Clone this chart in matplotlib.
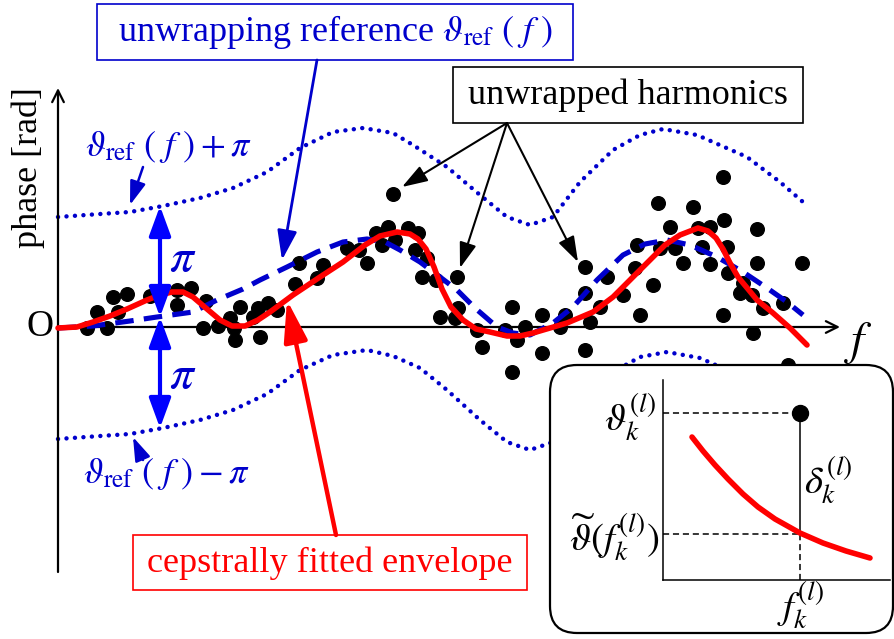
import matplotlib
matplotlib.use("Agg")
import matplotlib.pyplot as plt
from matplotlib.patches import Rectangle, FancyBboxPatch

plt.rcParams["font.family"] = ["Liberation Serif", "DejaVu Serif"]
plt.rcParams["mathtext.fontset"] = "stix"

BLUE = "#0000CC"
BRIGHT_BLUE = "#0000FF"
RED = "#FF0000"

# unwrapped harmonics (f, phase) -- schematic units, origin at the "O"
DOT_F = [29, 39, 49, 55, 69, 60, 92, 119, 133, 119, 148, 145, 160, 172, 176, 177,
         182, 195, 200, 202, 210, 219, 237, 241, 259, 265, 289, 301, 309, 318, 324,
         330, 337, 350, 360, 357, 369, 364, 378, 382, 399, 400, 397, 419, 424, 454,
         459, 447, 467, 454, 335, 484, 507, 502, 484, 527, 527, 527, 532, 542, 549,
         565, 577, 579, 595, 582, 602, 600, 635, 665, 612, 640, 652, 666, 699, 617,
         644, 669, 625, 652, 699, 744, 670, 685, 682, 694, 705, 725, 665, 695, 730]
DOT_PH = [-1, 15, -1, 30, 33, 15, 31, 37, 39, 22, 26, -1, 1, 9, -1, -13,
          20, 10, 19, -10, 24, 17, 43, 64, 49, 62, 79, 77, 64, 94, 82,
          100, 87, 99, 94, 77, 69, 50, 47, 10, 50, 19, 9, -3, -20, 20,
          -13, -3, 0, -45, 133, 12, 12, 0, -26, -23, 60, 34, 5, 20, 50,
          32, 59, 82, 42, 12, 79, 124, 120, 150, 100, 99, 100, 107, 98, 79,
          80, 80, 64, 63, 64, 64, 54, 44, 34, 32, 19, 24, 12, -6, -38]

# unwrapping reference
REF_F = [0, 35, 72, 99, 135, 159, 185, 202, 229, 259, 285, 309, 327, 342, 362, 382,
         399, 417, 439, 455, 472, 495, 515, 539, 565, 587, 609, 632, 659, 685, 709,
         729, 745]
REF_PH = [-1, 1, 6, 10, 15, 27, 38, 47, 60, 75, 85, 88, 85, 77, 65, 50,
          37, 19, 0, -6, -8, 4, 20, 47, 72, 83, 87, 82, 70, 55, 39,
          25, 12]

# reference +/- pi
UP_F = [0, 42, 72, 105, 142, 175, 209, 242, 275, 305, 335, 355, 389, 422, 449, 472,
        495, 522, 555, 582, 605, 639, 689, 722, 745]
UP_PH = [110, 113, 115, 121, 129, 139, 155, 179, 195, 199, 194, 182, 160, 132, 110, 102,
         110, 145, 177, 192, 198, 192, 170, 145, 125]
LO_F = [0, 42, 72, 105, 142, 175, 209, 242, 275, 309, 335, 362, 389, 422, 449, 472,
        495, 522, 555, 582, 609, 642, 689, 722, 745]
LO_PH = [-112, -109, -107, -101, -93, -83, -67, -43, -28, -23, -29, -41, -63, -93, -115, -123,
         -115, -78, -45, -30, -25, -31, -52, -77, -97]

# cepstrally fitted envelope
ENV_F = [0, 19, 35, 52, 69, 89, 102, 114, 125, 135, 149, 162, 174, 187, 200, 212,
         235, 262, 285, 307, 322, 339, 352, 360, 368, 376, 384, 393, 405, 418, 432,
         449, 462, 475, 509, 535, 555, 575, 592, 607, 622, 640, 650, 658, 665, 672,
         680, 690, 699, 715, 732, 749]
ENV_PH = [-1, 0, 5, 11, 18, 27, 32, 35, 35, 30, 18, 7, 1, 1, 7, 15,
          32, 50, 65, 82, 91, 95, 93, 88, 78, 60, 38, 20, 7, -2, -5,
          -9, -9, -6, 4, 15, 30, 50, 67, 82, 92, 99, 96, 89, 78, 64,
          50, 38, 27, 14, -1, -18]

# inset close-up of one harmonic
INSET_F = [29, 40, 52, 65, 80, 95, 112, 137, 160, 183, 207]
INSET_ENV = [143, 129, 115, 101, 86, 73, 61, 47, 37, 29, 22]
INSET_HARM_F = 137
INSET_HARM_PH = 167
INSET_ENV_AT_HARM = 46

fig = plt.figure(figsize=(8.94, 6.39), dpi=100)
ax = fig.add_axes([0, 0, 1, 1])
ax.set_xlim(-58, 836)
ax.set_ylim(-312, 327)
ax.axis("off")

# axes
ax.annotate("", xy=(0, 239), xytext=(0, -245),
            arrowprops=dict(arrowstyle="->,head_length=0.6,head_width=0.3", lw=1.6,
                            color="black", shrinkA=0, shrinkB=0, mutation_scale=14))
ax.annotate("", xy=(782, 0), xytext=(0, 0),
            arrowprops=dict(arrowstyle="->,head_length=0.6,head_width=0.3", lw=1.6,
                            color="black", shrinkA=0, shrinkB=0, mutation_scale=14))
ax.text(-18, 0, "O", fontsize=27, ha="center", va="center")
ax.text(800, -16, "$f$", fontsize=34, ha="center", va="center")
ax.text(-30, 159, "phase [rad]", fontsize=26, rotation=90, ha="center", va="center")

ax.plot(UP_F, UP_PH, color=BLUE, lw=3.2, ls=(0, (0.01, 1.9)), dash_capstyle="round", zorder=2)
ax.plot(LO_F, LO_PH, color=BLUE, lw=3.2, ls=(0, (0.01, 1.9)), dash_capstyle="round", zorder=2)
ax.plot(DOT_F, DOT_PH, "o", color="black", ms=9.8, zorder=3)
ax.plot(REF_F, REF_PH, color=BLUE, lw=3.7, ls=(0, (3.6, 2.0)), zorder=4)
ax.plot(ENV_F, ENV_PH, color=RED, lw=4.0, solid_capstyle="round", solid_joinstyle="round", zorder=5)

# pi spans
for y0, y1 in [(10, 121), (10, -101)]:
    ax.annotate("", xy=(102, y1), xytext=(102, y0),
                arrowprops=dict(arrowstyle="<|-|>,head_length=0.6,head_width=0.22", lw=3.0,
                                color=BRIGHT_BLUE, shrinkA=0, shrinkB=0, mutation_scale=30),
                zorder=6)
ax.text(125, 67, r"$\pi$", fontsize=34, color=BLUE, ha="center", va="center")
ax.text(125, -50, r"$\pi$", fontsize=34, color=BLUE, ha="center", va="center")

# label boxes
ax.add_patch(Rectangle((39, 267), 476, 56, fill=False, ec=BLUE, lw=1.2, zorder=6))
ax.text(278, 295, r"unwrapping reference $\vartheta_{\mathrm{ref}}\ (\ f\ )$",
        fontsize=26, color=BLUE, ha="center", va="center")
ax.annotate("", xy=(224, 67), xytext=(259, 267),
            arrowprops=dict(arrowstyle="-|>,head_length=0.6,head_width=0.2", lw=2.0,
                            color=BLUE, shrinkA=0, shrinkB=0, mutation_scale=30), zorder=6)

ax.text(110, 180, r"$\vartheta_{\mathrm{ref}}\ (\ f\ )+\pi$", fontsize=26, color=BLUE,
        ha="center", va="center")
ax.annotate("", xy=(72, 122), xytext=(85, 160),
            arrowprops=dict(arrowstyle="-|>,head_length=0.6,head_width=0.2", lw=1.8,
                            color=BLUE, shrinkA=0, shrinkB=0, mutation_scale=24), zorder=6)
ax.text(108, -147, r"$\vartheta_{\mathrm{ref}}\ (\ f\ )-\pi$", fontsize=26, color=BLUE,
        ha="center", va="center")
ax.annotate("", xy=(75, -110), xytext=(85, -133),
            arrowprops=dict(arrowstyle="-|>,head_length=0.6,head_width=0.2", lw=1.8,
                            color=BLUE, shrinkA=0, shrinkB=0, mutation_scale=24), zorder=6)

ax.add_patch(Rectangle((395, 204), 350, 56, fc="white", ec="black", lw=1.2, zorder=6))
ax.text(570, 232, "unwrapped harmonics", fontsize=26, ha="center", va="center", zorder=7)
for tip in [(344, 140), (402, 59), (520, 65)]:
    ax.annotate("", xy=tip, xytext=(449, 204),
                arrowprops=dict(arrowstyle="-|>,head_length=0.6,head_width=0.2", lw=1.5,
                                color="black", shrinkA=0, shrinkB=0, mutation_scale=26),
                zorder=6)

ax.add_patch(Rectangle((75, -263), 394, 55, fc="white", ec=RED, lw=1.2, zorder=6))
ax.text(272, -236, "cepstrally fitted envelope", fontsize=26, color=RED,
        ha="center", va="center", zorder=7)
ax.annotate("", xy=(229, 27), xytext=(278, -208),
            arrowprops=dict(arrowstyle="-|>,head_length=0.7,head_width=0.2", lw=3.2,
                            color=RED, shrinkA=0, shrinkB=0, mutation_scale=36), zorder=6)

# inset frame
ax.add_patch(FancyBboxPatch((492 + 27, -306 + 27), 343 - 54, 268 - 54,
                            boxstyle="round,pad=27", fc="white", ec="black", lw=1.6,
                            zorder=10))
ax.text(598, -90, r"$\vartheta_k^{(l)}$", fontsize=28, ha="right", va="center", zorder=11)
ax.text(746, -153, r"$\delta_k^{(l)}$", fontsize=28, ha="left", va="center", zorder=11)
ax.text(601, -210, r"$\widetilde{\vartheta}(f_k^{(l)})$", fontsize=28, ha="right",
        va="center", zorder=11)
ax.text(743, -278, r"$f_k^{(l)}$", fontsize=28, ha="center", va="center", zorder=11)

ins = fig.add_axes([663 / 894, 59 / 639, 227 / 894, 200 / 639])
ins.set_xlim(0, 227)
ins.set_ylim(0, 200)
ins.patch.set_visible(False)
ins.set_xticks([])
ins.set_yticks([])
for side in ["top", "right"]:
    ins.spines[side].set_visible(False)
for side in ["left", "bottom"]:
    ins.spines[side].set_linewidth(1.1)
ins.plot([0, INSET_HARM_F], [INSET_HARM_PH, INSET_HARM_PH], color="black", lw=1.1, ls=(0, (4, 2.5)))
ins.plot([0, INSET_HARM_F], [INSET_ENV_AT_HARM, INSET_ENV_AT_HARM], color="black", lw=1.1, ls=(0, (4, 2.5)))
ins.plot([INSET_HARM_F, INSET_HARM_F], [0, INSET_ENV_AT_HARM], color="black", lw=1.1, ls=(0, (4, 2.5)))
ins.plot([INSET_HARM_F, INSET_HARM_F], [INSET_ENV_AT_HARM, INSET_HARM_PH], color="black", lw=1.1)
ins.plot(INSET_F, INSET_ENV, color=RED, lw=4.0, solid_capstyle="round", solid_joinstyle="round")
ins.plot([INSET_HARM_F], [INSET_HARM_PH], "o", color="black", ms=11.5, clip_on=False)

fig.savefig("out.png", dpi=100)
